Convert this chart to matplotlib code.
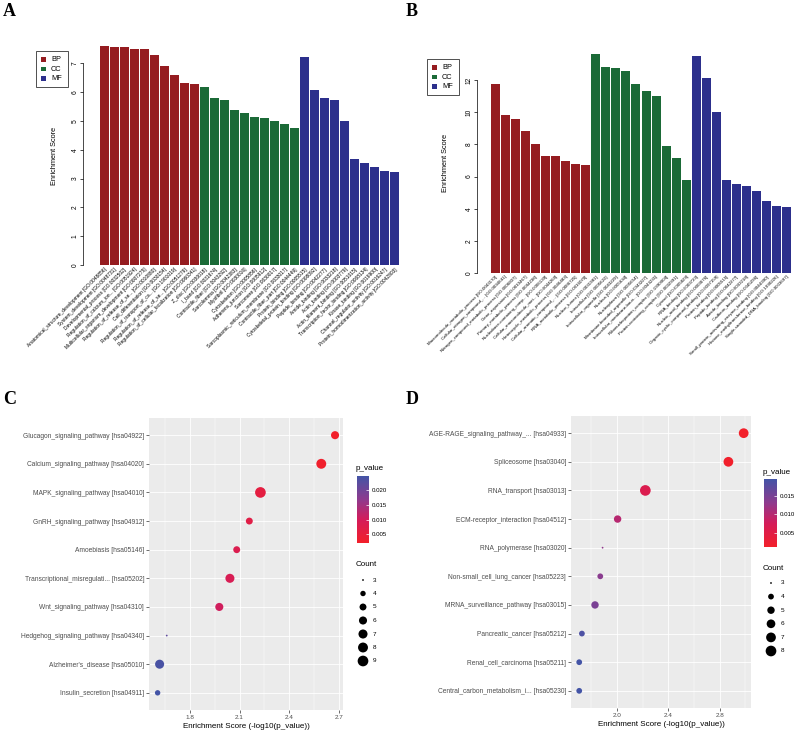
import numpy as np
import matplotlib
matplotlib.use("Agg")
import matplotlib.pyplot as plt
from matplotlib.colors import LinearSegmentedColormap, Normalize
from matplotlib.patches import Rectangle

plt.rcParams['font.family'] = ['Liberation Sans', 'DejaVu Sans']

# ---- data ----
go_groups = ['BP'] * 10 + ['CC'] * 10 + ['MF'] * 10

go_a_labels = [
    "Anatomical_structure_development [GO:0048856]",
    "System_development [GO:0048731]",
    "Developmental_process [GO:0032502]",
    "Regulation_of_calcium_ion... [GO:0051924]",
    "Multicellular_organism_development [GO:0007275]",
    "Regulation_of_release_of_se... [GO:0010880]",
    "Cell_differentiation [GO:0030154]",
    "Regulation_of_transport_of_ca... [GO:1901019]",
    "Regulation_of_release_of_se... [GO:0051279]",
    "Regulation_of_cellular_localization [GO:0060341]",
    "Z_disc [GO:0030018]",
    "I_band [GO:0031674]",
    "Contractile_fiber [GO:0043292]",
    "Sarcolemma [GO:0042383]",
    "Myofibril [GO:0030016]",
    "Cytoskeleton [GO:0005856]",
    "Adherens_junction [GO:0005912]",
    "Sarcomere [GO:0030017]",
    "Sarcoplasmic_reticulum_membrane [GO:0033017]",
    "Contractile_fiber_part [GO:0044449]",
    "Protein_binding [GO:0005515]",
    "Cytoskeletal_protein_binding [GO:0008092]",
    "Peptide_binding [GO:0042277]",
    "Amide_binding [GO:0033218]",
    "Actin_binding [GO:0003779]",
    "Actin_filament_binding [GO:0051015]",
    "Transcription_factor_binding [GO:0008134]",
    "Kinase_binding [GO:0019900]",
    "Channel_regulator_activity [GO:0016247]",
    "Protein_homodimerization_activity [GO:0042803]",
]
go_a_scores = [7.60, 7.56, 7.56, 7.51, 7.49, 7.30, 6.91, 6.59, 6.30, 6.29,
               6.17, 5.78, 5.73, 5.38, 5.28, 5.15, 5.09, 5.01, 4.90, 4.76,
               7.21, 6.06, 5.81, 5.71, 4.98, 3.68, 3.55, 3.41, 3.25, 3.23]

go_b_labels = [
    "Macromolecule_metabolic_process [GO:0043170]",
    "Cellular_nitrogen_compound_... [GO:0034641]",
    "Nitrogen_compound_metabolic_process [GO:0006807]",
    "Gene_expression [GO:0010467]",
    "Primary_metabolic_process [GO:0044238]",
    "Nucleobase-containing_comp... [GO:0006139]",
    "Cellular_macromolecule_met... [GO:0044260]",
    "Heterocycle_metabolic_process [GO:0046483]",
    "Cellular_aromatic_compound_... [GO:0006725]",
    "RNA_metabolic_process [GO:0016070]",
    "Nuclear_lumen [GO:0031981]",
    "Intracellular [GO:0005622]",
    "Intracellular_organelle [GO:0043229]",
    "Nucleus [GO:0005634]",
    "Nucleoplasm [GO:0005654]",
    "Membrane-bounded_organelle [GO:0043227]",
    "Intracellular_membrane-boun... [GO:0043231]",
    "Ribonucleoprotein_complex [GO:1990904]",
    "Protein-containing_complex [GO:0032991]",
    "Cytosol [GO:0005829]",
    "RNA_binding [GO:0003723]",
    "Nucleic_acid_binding [GO:0003676]",
    "Organic_cyclic_compound_binding [GO:0097159]",
    "Protein_binding [GO:0005515]",
    "Peptide_binding [GO:0042277]",
    "Amide_binding [GO:0033218]",
    "Cadherin_binding [GO:0045296]",
    "Small_protein_activating_enzyme_binding [GO:0044390]",
    "Histone_methyltransferase_binding [GO:1990226]",
    "Single-stranded_DNA_binding [GO:0003697]",
]
go_b_scores = [11.76, 9.85, 9.58, 8.80, 8.03, 7.28, 7.26, 6.99, 6.80, 6.74,
               13.60, 12.78, 12.72, 12.55, 11.74, 11.33, 11.00, 7.90, 7.14, 5.79,
               13.50, 12.12, 10.02, 5.81, 5.54, 5.41, 5.08, 4.50, 4.19, 4.11]

kegg_c_labels = [
    "Glucagon_signaling_pathway [hsa04922]",
    "Calcium_signaling_pathway [hsa04020]",
    "MAPK_signaling_pathway [hsa04010]",
    "GnRH_signaling_pathway [hsa04912]",
    "Amoebiasis [hsa05146]",
    "Transcriptional_misregulati... [hsa05202]",
    "Wnt_signaling_pathway [hsa04310]",
    "Hedgehog_signaling_pathway [hsa04340]",
    "Alzheimer's_disease [hsa05010]",
    "Insulin_secretion [hsa04911]",
]
kegg_c_scores = [2.676, 2.593, 2.226, 2.159, 2.083, 2.042, 1.978, 1.661, 1.618, 1.606]
kegg_c_counts = [6, 8, 9, 5, 5, 7, 6, 3, 7, 4]

kegg_d_labels = [
    "AGE-RAGE_signaling_pathway_... [hsa04933]",
    "Spliceosome [hsa03040]",
    "RNA_transport [hsa03013]",
    "ECM-receptor_interaction [hsa04512]",
    "RNA_polymerase [hsa03020]",
    "Non-small_cell_lung_cancer [hsa05223]",
    "MRNA_surveillance_pathway [hsa03015]",
    "Pancreatic_cancer [hsa05212]",
    "Renal_cell_carcinoma [hsa05211]",
    "Central_carbon_metabolism_i... [hsa05230]",
]
kegg_d_scores = [2.987, 2.868, 2.221, 2.005, 1.888, 1.870, 1.829, 1.727, 1.706, 1.706]
kegg_d_counts = [7, 7, 8, 5, 3, 4, 5, 4, 4, 4]

go_colors = {'BP': '#951c20', 'CC': '#1b6a37', 'MF': '#2c2f8c'}
pcmap = LinearSegmentedColormap.from_list(
    'pv', [(0, '#f2202a'), (0.35, '#d41c5a'), (0.65, '#8e3a8e'), (1, '#4354a6')])

W, H = 800, 735
fig = plt.figure(figsize=(8, 7.35), dpi=100)


def box(l, t, r, b):
    return [l / W, 1 - b / H, (r - l) / W, (b - t) / H]


over = fig.add_axes([0, 0, 1, 1], zorder=10)
over.set_xlim(0, W)
over.set_ylim(H, 0)
over.axis('off')


def go_bar(rect, labels, scores, ymax, yticks, gap_px, fs, ylab_x, leg):
    ax = fig.add_axes(rect)
    x = np.arange(len(scores))
    ax.bar(x, scores, width=0.9, color=[go_colors[g] for g in go_groups], linewidth=0)
    ax.set_xlim(-0.5, len(scores) - 0.5)
    ax.set_ylim(0, ymax)
    for s in ['top', 'right', 'bottom']:
        ax.spines[s].set_visible(False)
    ax.spines['left'].set_position(('outward', gap_px * 0.72))
    ax.spines['left'].set_bounds(yticks[0], yticks[-1])
    ax.spines['left'].set_linewidth(0.5)
    ax.set_yticks(yticks)
    ax.set_yticklabels([str(t) for t in yticks], rotation=90, va='center', fontsize=4.8)
    ax.tick_params(axis='y', length=2.5, width=0.5, pad=0.8)
    ax.set_xticks(x)
    ax.set_xticklabels(labels, rotation=45, ha='right', rotation_mode='anchor', fontsize=fs)
    ax.tick_params(axis='x', length=0, pad=1.5)
    ax.set_ylabel('Enrichment Score', fontsize=5.3)
    ax.yaxis.set_label_coords(ylab_x, 0.5)
    # legend box
    l, t, r, b = leg
    over.add_patch(Rectangle((l, t), r - l, b - t, fill=False, lw=0.6, ec='#333333'))
    for k, g in enumerate(['BP', 'CC', 'MF']):
        yy = t + (b - t) * (k + 0.85) / 3.7
        over.add_patch(Rectangle((l + 5, yy - 2.3), 4.6, 4.6, color=go_colors[g], lw=0))
        over.text(l + 15, yy, g, fontsize=5.3, va='center', ha='left')
    return ax


go_bar(box(99, 46, 400, 265), go_a_labels, go_a_scores, 7.6, list(range(8)), 16, 3.5,
       -0.137, (36, 51, 68, 87))
go_bar(box(490, 53, 792, 273), go_b_labels, go_b_scores, 13.68, list(range(0, 13, 2)), 13, 3.2,
       -0.137, (427, 59, 459, 95))


def dsize(counts, cmin, cmax):
    c = np.asarray(counts, dtype=float)
    d_px = 1.78 * (1 + 5 * np.sqrt((c - cmin) / (cmax - cmin)))
    return (d_px * 0.72) ** 2


def kegg_dot(rect, labels, scores, counts, xlim, xticks, minor, cb, pticks, leg):
    ax = fig.add_axes(rect)
    ax.set_facecolor('#ebebeb')
    n = len(labels)
    y = np.arange(n)[::-1]
    pv = 10 ** (-np.asarray(scores))
    norm = Normalize(pv.min(), pv.max())
    cmin, cmax = min(leg['levels']), max(leg['levels'])
    ax.scatter(scores, y, s=dsize(counts, cmin, cmax), c=pv, cmap=pcmap, norm=norm,
               linewidths=0, zorder=3)
    ax.set_xlim(*xlim)
    ax.set_ylim(-0.6, n - 0.4)
    ax.set_xticks(xticks)
    ax.set_xticks(minor, minor=True)
    ax.set_xticklabels([f'{t:.1f}' for t in xticks], fontsize=4.6, color='#4d4d4d')
    ax.set_yticks(y)
    ax.set_yticklabels(labels, fontsize=4.8, color='#4d4d4d')
    ax.grid(True, which='major', color='white', lw=0.6)
    ax.grid(True, which='minor', axis='x', color='white', lw=0.3)
    ax.set_axisbelow(True)
    ax.tick_params(which='major', length=2, width=0.5, color='#333333', pad=1.5)
    ax.tick_params(which='minor', length=0)
    for s in ax.spines.values():
        s.set_visible(False)
    ax.set_xlabel('Enrichment Score (-log10(p_value))', fontsize=5.8, labelpad=2.5)

    cax = fig.add_axes(cb['rect'])
    sm = plt.cm.ScalarMappable(norm=norm, cmap=pcmap)
    cbar = fig.colorbar(sm, cax=cax)
    cbar.outline.set_visible(False)
    cbar.set_ticks(pticks)
    cbar.ax.set_yticklabels([f'{t:.3f}' for t in pticks], fontsize=4.4)
    cbar.ax.tick_params(length=2, width=0.5, color='white', direction='in', pad=2)
    over.text(cb['title'][0], cb['title'][1], 'p_value', fontsize=5.8, va='center')

    over.text(leg['title'][0], leg['title'][1], 'Count', fontsize=5.8, va='center')
    ys = leg['y0'] + leg['dy'] * np.arange(len(leg['levels']))
    over.scatter(np.full(len(ys), leg['mx']), ys, s=dsize(leg['levels'], cmin, cmax),
                 color='black', linewidths=0)
    for yy, lv in zip(ys, leg['levels']):
        over.text(leg['tx'], yy, str(lv), fontsize=4.6, va='center')


kegg_dot(box(149, 418, 343, 710), kegg_c_labels, kegg_c_scores, kegg_c_counts,
         (1.554, 2.724), [1.8, 2.1, 2.4, 2.7], [1.65, 1.95, 2.25, 2.55],
         {'rect': box(357, 476, 369, 543), 'title': (356, 468)},
         [0.005, 0.010, 0.015, 0.020],
         {'title': (356, 564), 'levels': [3, 4, 5, 6, 7, 8, 9], 'y0': 580, 'dy': 13.5,
          'mx': 363, 'tx': 373})

kegg_dot(box(571, 416, 751, 708), kegg_d_labels, kegg_d_scores, kegg_d_counts,
         (1.642, 3.044), [2.0, 2.4, 2.8], [1.8, 2.2, 2.6, 3.0],
         {'rect': box(764, 479, 777, 547), 'title': (763, 472)},
         [0.005, 0.010, 0.015],
         {'title': (763, 568), 'levels': [3, 4, 5, 6, 7, 8], 'y0': 583, 'dy': 13.6,
          'mx': 771, 'tx': 781})

for lab, (px, py) in zip('ABCD', [(3, 3), (406, 3), (3, 391), (406, 391)]):
    over.text(px, py, lab, fontsize=13, fontweight='bold', va='top', ha='left',
              family=['Liberation Serif', 'DejaVu Serif'])

fig.savefig('out.png', dpi=100)
